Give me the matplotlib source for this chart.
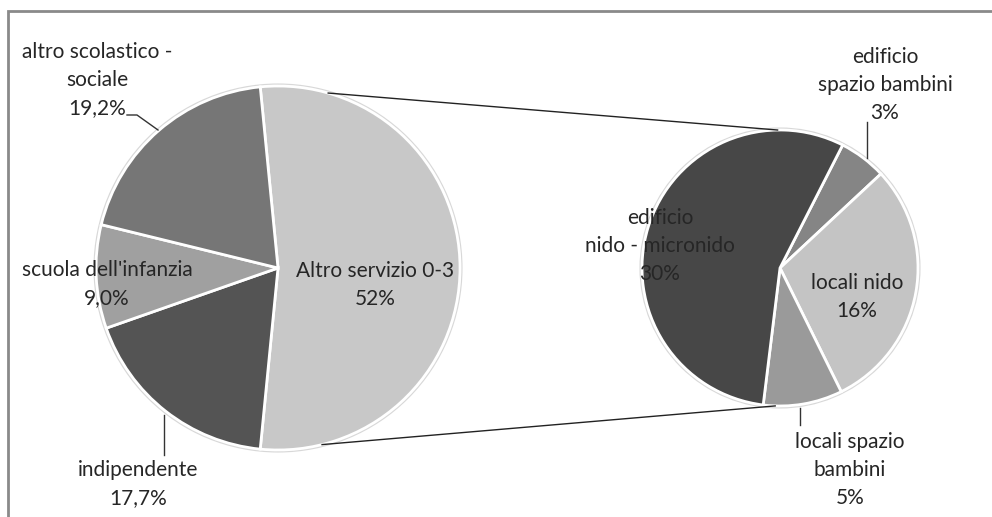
import numpy as np
import matplotlib.pyplot as plt

plt.rcParams['font.family'] = ['Lato', 'DejaVu Sans']

# main pie (clockwise, starting from the top)
main_labels = ['Altro servizio 0-3', 'indipendente', "scuola dell'infanzia", 'altro scolastico -\nsociale']
main_values = [52, 17.7, 9.0, 19.2]
main_text = ['52%', '17,7%', '9,0%', '19,2%']
main_colors = ['#c8c8c8', '#545454', '#a0a0a0', '#767676']

# breakdown of "Altro servizio 0-3"
sub_labels = ['edificio\nspazio bambini', 'locali nido', 'locali spazio\nbambini', 'edificio\nnido - micronido']
sub_values = [3, 16, 5, 30]
sub_text = ['3%', '16%', '5%', '30%']
sub_colors = ['#858585', '#c4c4c4', '#9a9a9a', '#474747']

W, H = 992, 517
fig = plt.figure(figsize=(W / 100, H / 100), dpi=100)
ax = fig.add_axes([0, 0, 1, 1])

def Y(y):
    return H - y

c1, r1 = (278, Y(268)), 182
c2, r2 = (780, Y(268)), 138

# the first slice is centred on the right-hand side
start1 = 360 * main_values[0] / sum(main_values) / 2
wedges1, _ = ax.pie(main_values, colors=main_colors, center=c1, radius=r1,
                    startangle=start1, counterclock=False,
                    explode=[0.025, 0, 0, 0], frame=True,
                    wedgeprops=dict(edgecolor='white', linewidth=2))
wedges2, _ = ax.pie(sub_values, colors=sub_colors, center=c2, radius=r2,
                    startangle=63, counterclock=False, frame=True,
                    wedgeprops=dict(edgecolor='white', linewidth=2))
ax.set_xlim(0, W)
ax.set_ylim(0, H)
ax.set_aspect('equal')
ax.axis('off')

# chart frame (only top and left edges fall inside the image)
ax.plot([8, 8, W + 5], [-5, Y(11), Y(11)], color='#8a8a8a', lw=2, solid_joinstyle='miter')

# soft outline around both pies
for c, r in [(c1, r1), (c2, r2)]:
    ax.add_patch(plt.Circle(c, r + 1.5, fill=False, ec='#d8d8d8', lw=1.5, zorder=0))

# connector lines from the exploded slice to the breakdown pie
cx, cy = wedges1[0].center
for ang, end_ang in [(74, 91), (-76, -92)]:
    p1 = (cx + r1 * np.cos(np.radians(ang)), cy + r1 * np.sin(np.radians(ang)))
    p2 = (c2[0] + r2 * np.cos(np.radians(end_ang)), c2[1] + r2 * np.sin(np.radians(end_ang)))
    ax.plot([p1[0], p2[0]], [p1[1], p2[1]], color='#222222', lw=1)

fs = 15
tc = '#262626'

def label(x, y, name, val):
    ax.text(x, Y(y), name + '\n' + val, ha='center', va='center',
            fontsize=fs, color=tc, linespacing=1.5)

label(375, 285, main_labels[0], main_text[0])
label(138, 484, main_labels[1], main_text[1])
label(107, 284, main_labels[2], main_text[2])
label(97, 80, main_labels[3], main_text[3])

label(885, 85, sub_labels[0], sub_text[0])
label(857, 297, sub_labels[1], sub_text[1])
label(850, 470, sub_labels[2], sub_text[2])
label(660, 246, sub_labels[3], sub_text[3])

# leader lines
lc = '#333333'
ax.plot([127, 137, 158], [Y(115), Y(115), Y(130)], color=lc, lw=1)
ax.plot([164, 164], [Y(415), Y(455)], color=lc, lw=1)
ax.plot([867, 867], [Y(122), Y(158)], color=lc, lw=1)
ax.plot([800, 800], [Y(408), Y(425)], color=lc, lw=1)

fig.savefig('out.png', dpi=100)
